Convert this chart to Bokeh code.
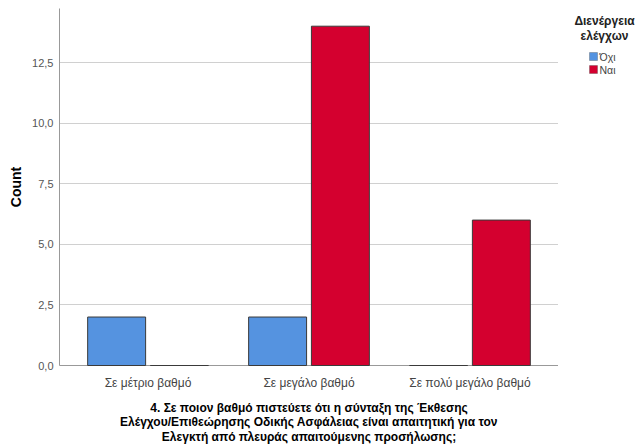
from bokeh.plotting import figure
from bokeh.layouts import row
from bokeh.models import (ColumnDataSource, FactorRange, Range1d, FixedTicker,
                          CustomJSTickFormatter, Label, BoxAnnotation)
from bokeh.transform import dodge
from bokeh.embed import file_html
from bokeh.resources import INLINE

categories = ["Σε μέτριο βαθμό", "Σε μεγάλο βαθμό", "Σε πολύ μεγάλο βαθμό"]
ochi = [2, 2, 0]
nai = [0, 14, 6]
series_names = ["Όχι", "Ναι"]
y_ticks = [0, 2.5, 5, 7.5, 10, 12.5]
title_lines = [
    "4. Σε ποιον βαθμό πιστεύετε ότι η σύνταξη της Έκθεσης",
    "Ελέγχου/Επιθεώρησης Οδικής Ασφάλειας είναι απαιτητική για τον",
    "Ελεγκτή από πλευράς απαιτούμενης προσήλωσης;",
]
legend_title_lines = ["Διενέργεια", "ελέγχων"]

FONT = "Liberation Sans"
BLUE = "#5593E0"
RED = "#D4002F"
EDGE = "#3a3a3a"
series_colors = [BLUE, RED]

src = ColumnDataSource(dict(cat=categories, ochi=ochi, nai=nai))

p = figure(x_range=FactorRange(*categories, range_padding=0.1/3),
           y_range=Range1d(0, 14.73),
           frame_width=499, frame_height=357,
           output_backend="svg", toolbar_location=None,
           min_border_left=59, min_border_top=8, min_border_right=0,
           min_border_bottom=0)

p.vbar(x=dodge("cat", -0.195, range=p.x_range), top="ochi", width=0.36,
       source=src, fill_color=BLUE, line_color=EDGE, line_width=1, level="overlay")
p.vbar(x=dodge("cat", 0.195, range=p.x_range), top="nai", width=0.36,
       source=src, fill_color=RED, line_color=EDGE, line_width=1, level="overlay")

p.outline_line_color = None
p.xgrid.grid_line_color = None
p.ygrid.grid_line_color = "#d0d0d0"
p.ygrid.ticker = FixedTicker(ticks=y_ticks)

p.yaxis.ticker = FixedTicker(ticks=y_ticks)
p.yaxis.formatter = CustomJSTickFormatter(code="return tick.toFixed(1).replace('.', ',');")
p.yaxis.axis_label = "Count"
p.yaxis.axis_label_text_font = FONT
p.yaxis.axis_label_text_font_style = "bold"
p.yaxis.axis_label_text_font_size = "14px"
p.yaxis.axis_label_text_color = "#000000"
p.yaxis.major_label_text_font = FONT
p.yaxis.major_label_text_font_size = "11px"
p.yaxis.major_label_text_color = "#555555"
p.yaxis.major_tick_line_color = None
p.yaxis.major_tick_out = 0
p.yaxis.major_tick_in = 0
p.yaxis.minor_tick_line_color = None
p.yaxis.major_label_standoff = 6
p.yaxis.axis_line_color = "#999999"

p.xaxis.major_label_text_font = FONT
p.xaxis.major_label_text_font_size = "12px"
p.xaxis.major_label_text_color = "#444444"
p.xaxis.major_tick_line_color = None
p.xaxis.major_tick_out = 0
p.xaxis.major_tick_in = 0
p.xaxis.minor_tick_line_color = None
p.xaxis.axis_line_color = "#999999"
p.xaxis.major_label_standoff = 10
p.xaxis.axis_label = "\n".join(title_lines)
p.xaxis.axis_label_standoff = 8
p.xaxis.axis_label_text_font = FONT
p.xaxis.axis_label_text_font_size = "12px"
p.xaxis.axis_label_text_font_style = "bold"
p.xaxis.axis_label_text_color = "#000000"
p.xaxis.axis_label_text_line_height = 1.05

# legend panel as a small companion figure (ranges in pixels)
LW, LH = 80, 80
lg = figure(frame_width=LW, frame_height=LH,
            x_range=Range1d(0, LW), y_range=Range1d(0, LH),
            x_axis_location=None, y_axis_location=None,
            output_backend="svg", toolbar_location=None,
            min_border_left=0, min_border_right=0,
            min_border_top=0, min_border_bottom=0)
lg.grid.visible = False
lg.outline_line_color = None

for i, txt in enumerate(legend_title_lines):
    lg.add_layout(Label(x=46, y=68 - 15 * i, text=txt, text_align="center",
                        text_baseline="middle", text_font=FONT,
                        text_font_size="12px", text_font_style="bold",
                        text_color="#222222"))

for i, (name, col) in enumerate(zip(series_names, series_colors)):
    yc = 32 - 13 * i
    lg.add_layout(BoxAnnotation(left=31, right=39, bottom=yc - 4, top=yc + 4,
                                fill_color=col, fill_alpha=1,
                                line_color=EDGE, line_width=1))
    lg.add_layout(Label(x=41, y=yc, text=name, text_align="left",
                        text_baseline="middle", text_font=FONT,
                        text_font_size="10.5px", text_color="#444444"))

layout = row(p, lg)
open("out.html", "w").write(file_html(layout, INLINE))
